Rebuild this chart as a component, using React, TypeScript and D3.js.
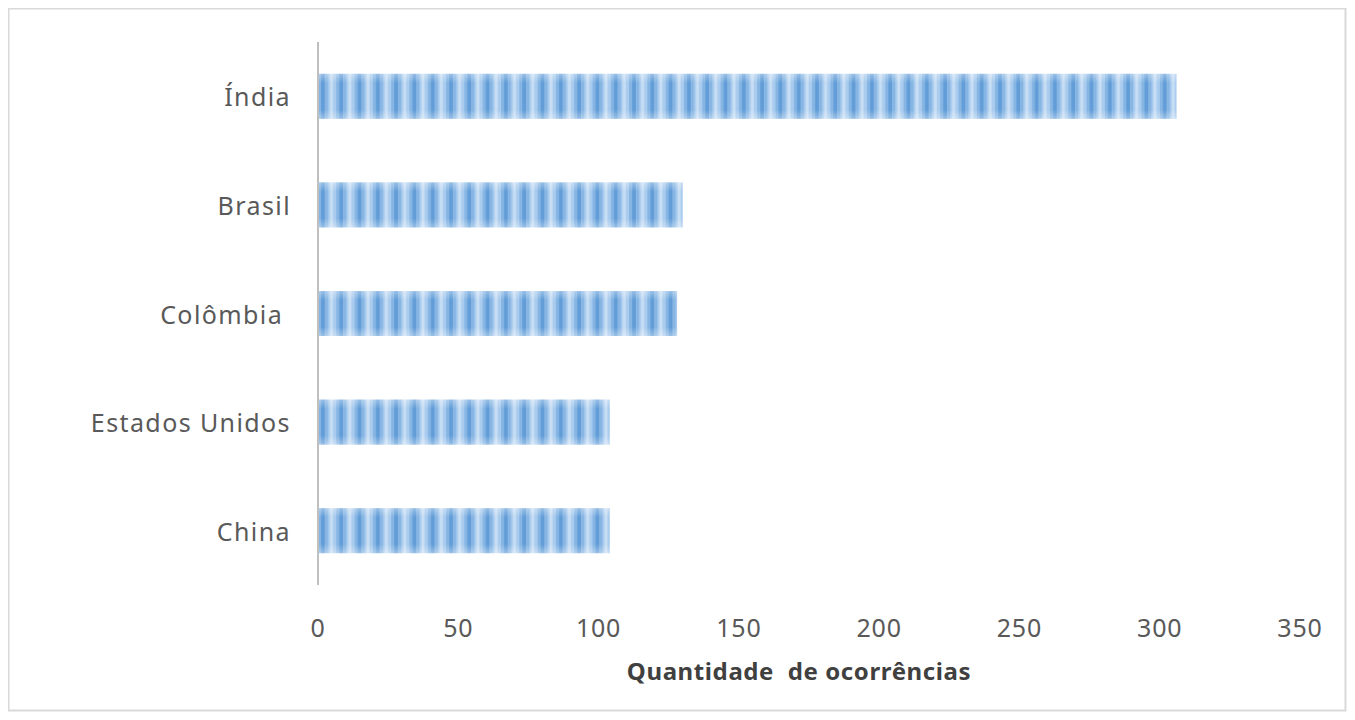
import React from 'react';
import * as d3 from 'd3';

const countries = ['Índia', 'Brasil', 'Colômbia ', 'Estados Unidos', 'China'];
const occurrences = [306, 130, 128, 104, 104];
const xTicks = [0, 50, 100, 150, 200, 250, 300, 350];
const axisTitle = 'Quantidade  de ocorrências';

const W = 1339;
const H = 704;

const App = () => {
  const x = d3.scaleLinear().domain([0, 350]).range([310, 1292]);
  const y = d3.scaleBand().domain(countries).range([34, 577]).paddingInner(0.586).paddingOuter(0.293);
  const font = '"Noto Sans", sans-serif';

  return (
    <svg width={W} height={H} style={{ display: 'block' }}>
      <defs>
        <pattern id="stripes" patternUnits="userSpaceOnUse" width={18.3} height={100} x={310}>
          <rect width={18.3} height={100} fill="#a8cbee" />
          <rect x={0} width={3} height={100} fill="#86b5e3" />
          <rect x={3} width={4} height={100} fill="#629dd8" />
          <rect x={7} width={3} height={100} fill="#86b5e3" />
          <rect x={12} width={3} height={100} fill="#c8def4" />
        </pattern>
        <linearGradient id="shade" x1="0" y1="0" x2="0" y2="1">
          <stop offset="0" stopColor="#ffffff" stopOpacity={0.35} />
          <stop offset="0.2" stopColor="#ffffff" stopOpacity={0} />
          <stop offset="0.8" stopColor="#ffffff" stopOpacity={0} />
          <stop offset="1" stopColor="#ffffff" stopOpacity={0.35} />
        </linearGradient>
      </defs>
      <rect x={0.5} y={0.5} width={W - 2} height={H - 2} fill="#fff" stroke="#d9d9d9" strokeWidth={2} />
      {countries.map((c, i) => (
        <g key={c}>
          <rect x={x(0)} y={y(c)} width={x(occurrences[i]) - x(0)} height={y.bandwidth()} fill="url(#stripes)" />
          <rect x={x(0)} y={y(c)} width={x(occurrences[i]) - x(0)} height={y.bandwidth()} fill="url(#shade)" />
          <text
            x={283}
            y={(y(c) as number) + y.bandwidth() / 2}
            textAnchor="end"
            dominantBaseline="central"
            fontFamily={font}
            fontSize={25}
            fill="#595959"
            style={{ whiteSpace: 'pre' }}
            letterSpacing={1.4}
          >
            {c}
          </text>
        </g>
      ))}
      <line x1={x(0)} x2={x(0)} y1={34} y2={577} stroke="#bfbfbf" strokeWidth={2} />
      {xTicks.map((t) => (
        <text
          key={t}
          x={x(t)}
          y={619}
          textAnchor="middle"
          dominantBaseline="central"
          fontFamily={font}
          fontSize={25}
          fill="#595959"
          letterSpacing={0.8}
        >
          {t}
        </text>
      ))}
      <text
        x={791}
        y={662}
        textAnchor="middle"
        dominantBaseline="central"
        fontFamily={font}
        fontSize={24}
        fontWeight="bold"
        fill="#404040"
        letterSpacing={0.6}
        style={{ whiteSpace: 'pre' }}
      >
        {axisTitle}
      </text>
    </svg>
  );
};

export default App;
